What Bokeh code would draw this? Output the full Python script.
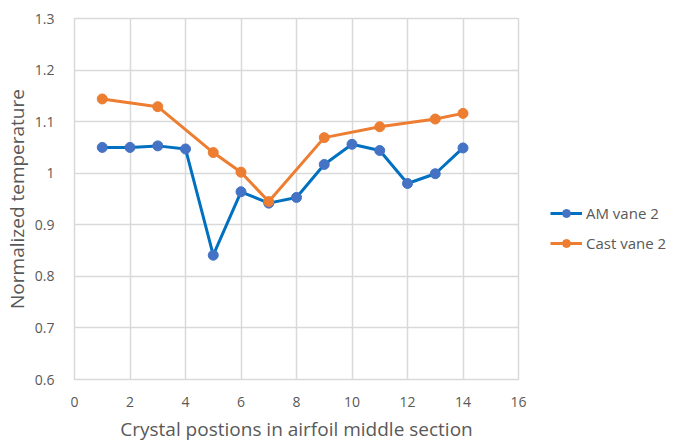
from bokeh.plotting import figure
from bokeh.models import Range1d, FixedTicker, Legend, LegendItem
from bokeh.embed import file_html
from bokeh.resources import INLINE

# Crystal positions and normalized temperatures
am_positions = [1, 2, 3, 4, 5, 6, 7, 8, 9, 10, 11, 12, 13, 14]
am_vane_2 = [1.050, 1.050, 1.053, 1.047, 0.841, 0.964, 0.942, 0.953, 1.017, 1.056, 1.044, 0.980, 0.999, 1.049]

cast_positions = [1, 3, 5, 6, 7, 9, 11, 13, 14]
cast_vane_2 = [1.144, 1.129, 1.040, 1.002, 0.945, 1.069, 1.090, 1.105, 1.116]

x_ticks = [0, 2, 4, 6, 8, 10, 12, 14, 16]
y_ticks = [0.6, 0.7, 0.8, 0.9, 1.0, 1.1, 1.2, 1.3]
y_tick_labels = {0.6: "0.6", 0.7: "0.7", 0.8: "0.8", 0.9: "0.9", 1.0: "1", 1.1: "1.1", 1.2: "1.2", 1.3: "1.3"}

FONT = "Open Sans"
TEXT = "#595959"
GRID = "#D9D9D9"
BLUE_LINE = "#0070C0"
BLUE_MARK = "#4472C4"
ORANGE = "#ED7D31"

p = figure(frame_width=444, frame_height=361, output_backend="svg", toolbar_location=None,
           x_range=Range1d(0, 16), y_range=Range1d(0.6, 1.3),
           min_border_left=74, min_border_right=160, min_border_top=18, min_border_bottom=65)
p.outline_line_color = GRID
p.outline_line_width = 1.5

for ax in (p.xaxis[0], p.yaxis[0]):
    ax.axis_line_color = None
    ax.major_tick_line_color = None
    ax.minor_tick_line_color = None
    ax.major_label_text_font = FONT
    ax.major_label_text_font_size = "14px"
    ax.major_label_text_color = TEXT
    ax.axis_label_text_font = FONT
    ax.axis_label_text_font_size = "19px"
    ax.axis_label_text_font_style = "normal"
    ax.axis_label_text_color = TEXT

p.xaxis.ticker = FixedTicker(ticks=x_ticks)
p.yaxis.ticker = FixedTicker(ticks=y_ticks)
p.yaxis.major_label_overrides = y_tick_labels
p.xaxis.axis_label = "Crystal postions in airfoil middle section"
p.yaxis.axis_label = "Normalized temperature"
p.xaxis.major_label_standoff = 11
p.yaxis.major_label_standoff = 14
p.xaxis.axis_label_standoff = 6
p.yaxis.axis_label_standoff = 2

p.xgrid.grid_line_color = GRID
p.ygrid.grid_line_color = GRID
p.xgrid.grid_line_width = 1.5
p.ygrid.grid_line_width = 1.5

am_line = p.line(am_positions, am_vane_2, line_color=BLUE_LINE, line_width=3)
am_pts = p.scatter(am_positions, am_vane_2, size=10, fill_color=BLUE_MARK, line_color=BLUE_MARK)
cast_line = p.line(cast_positions, cast_vane_2, line_color=ORANGE, line_width=3)
cast_pts = p.scatter(cast_positions, cast_vane_2, size=10, fill_color=ORANGE, line_color=ORANGE)

legend = Legend(items=[LegendItem(label="AM vane 2", renderers=[am_line, am_pts]),
                       LegendItem(label="Cast vane 2", renderers=[cast_line, cast_pts])],
                location=(32, 126), border_line_color=None, background_fill_alpha=0,
                label_text_font=FONT, label_text_font_size="15px", label_text_color=TEXT,
                glyph_width=32, spacing=10, padding=0, label_standoff=4, margin=0)
p.add_layout(legend, "right")

open("out.html", "w").write(file_html(p, INLINE))
